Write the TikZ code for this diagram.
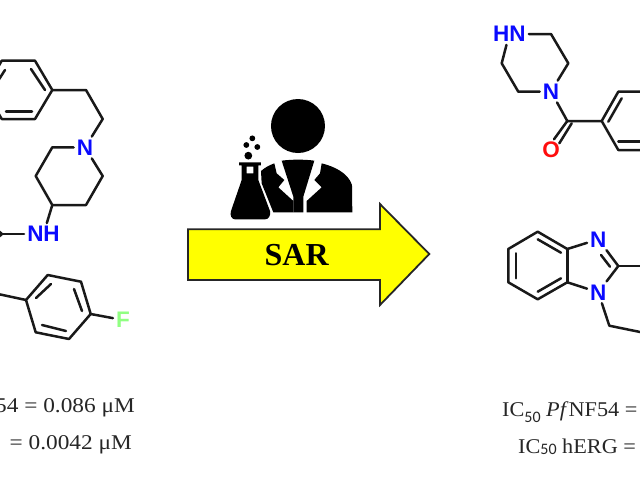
\documentclass[tikz,border=0pt]{standalone}
\usepackage{fontspec}
\setmainfont{Liberation Serif}
\newfontfamily\atomfont{Liberation Sans}
\newfontfamily\subfont{Carlito}
\newfontfamily\valleft{Liberation Serif}[FakeStretch=1.11]
\newfontfamily\valright{Liberation Serif}[FakeStretch=1.06]
\definecolor{atomblue}{RGB}{10,10,255}
\definecolor{atomred}{RGB}{255,13,13}
\definecolor{atomgreen}{RGB}{144,255,130}
\definecolor{arrowyellow}{RGB}{255,255,0}
\newcommand{\subfifty}[1]{\raisebox{#1}{\subfont\fontsize{16}{16}\selectfont 50}}
\tikzset{
  bond/.style={draw=black!90,line width=2.5pt,line join=round,line cap=round},
  atom/.style={font=\atomfont\bfseries\fontsize{22.5}{23}\selectfont,inner sep=3pt},
  natom/.style={atom,text=atomblue},
  valL/.style={font=\valleft\fontsize{21}{24}\selectfont,inner sep=0pt,text=black!85},
  valR/.style={font=\valright\fontsize{21}{24}\selectfont,inner sep=0pt,text=black!85},
  flow/.style={draw=black!85,fill=arrowyellow,line width=1.8pt,line join=miter},
  ico/.style={fill=black,draw=none}
}
\begin{document}
\begin{tikzpicture}[x=1pt,y=-1pt]
\useasboundingbox (0,0) rectangle (640,480);
% left molecule
\node[natom] (n1) at (85,147.5) {N};
\node[natom] (nh1) at (43.5,234) {NH};
\node[atom,text=atomgreen] (f1) at (123,320) {F};
\coordinate (pip) at (52.3,205);
\draw[bond] (-15,90) -- (1.7,60.7) -- (35,60.7) -- (52.3,90) -- (35,119) -- (1.7,119) -- cycle;
\draw[bond] (5,70) -- (-4,84);
\draw[bond] (31,69) -- (45,90);
\draw[bond] (6,111.5) -- (32,111.5);
\draw[bond] (52.3,90) -- (86,90) -- (102.7,119) -- (n1);
\draw[bond] (n1) -- (52.3,147.3) -- (35.7,176) -- (pip) -- (86,205) -- (102.7,176) -- (n1);
\draw[bond] (pip) -- (nh1);
\draw[bond] (nh1) -- (2,234);
\draw[bond] (-5,228) -- (2,234) -- (-5,240);
\draw[bond] (26,300) -- (47.7,275) -- (81,281.7) -- (90.7,314) -- (69,339) -- (35.7,332.3) -- cycle;
\draw[bond] (36,298) -- (51,284);
\draw[bond] (74,289) -- (82,311);
\draw[bond] (42,325) -- (66,331);
\draw[bond] (-2,294) -- (26,300);
\draw[bond] (90.7,314) -- (f1);
% left values
\node[valL,anchor=base east] (v1) at (135,412.7) {54 = 0.086 μM};
\node[valL,anchor=base east] (v2) at (132,449) {= 0.0042 μM};
% scientist icon
\begin{scope}[shift={(225,130)},x=0.3333pt,y=-0.3333pt]
\fill[ico] (219,-12) circle (27pt);
\fill[ico] (70,77) circle (3.9pt);
\fill[ico] (64,45) circle (2.9pt);
\fill[ico] (97,51) circle (2.9pt);
\fill[ico] (82,25) circle (2.9pt);
% flask
\fill[ico,even odd rule] (42,97) -- (108,97) -- (108,106) -- (100,106) -- (100,150) -- (135,243)
  .. controls (138,258) and (130,268) .. (120,268) -- (30,268)
  .. controls (20,268) and (14,256) .. (18,243) -- (50,150) -- (50,106) -- (42,106) -- cycle
  (65,110) -- (85,110) -- (85,130) -- (65,130) -- cycle;
% jacket
\fill[ico] (108,123) .. controls (120,112) and (135,105) .. (148,100) -- (155,130) -- (178,150) -- (160,172) -- (205,213) -- (205,247) -- (145,247) -- (110,160) -- cycle;
\fill[ico] (170,92) .. controls (200,88) and (240,88) .. (268,92) -- (235,200) -- (235,247) -- (205,247) -- (205,200) -- cycle;
\fill[ico] (290,100) .. controls (330,110) and (370,130) .. (381,165) -- (382,247) -- (245,247) -- (245,213) -- (290,172) -- (268,150) -- (285,130) -- cycle;
\end{scope}
% arrow
\draw[flow] (188,229.3) -- (380,229.3) -- (380,204) -- (429.3,254) -- (380,305) -- (380,280) -- (188,280) -- cycle;
\node[font=\bfseries\fontsize{32}{32}\selectfont,inner sep=0pt] (sar) at (296.7,255) {SAR};
% piperazine amide
\node[natom] (nh2) at (509.3,34) {HN};
\node[natom] (n2) at (551,91.5) {N};
\node[atom,text=atomred] (o1) at (551,150) {O};
\coordinate (co) at (567.3,121);
\coordinate (ar) at (601.7,121);
\draw[bond] (nh2) -- (551,34) -- (568.3,63.3) -- (n2) -- (518.3,91.7) -- (501.7,63.3) -- (nh2);
\draw[bond] (n2) -- (co) -- (ar);
\draw[bond] (co) -- (554,139.3);
\draw[bond] (571.7,123.3) -- (559.3,143.3);
\draw[bond] (645,91.7) -- (618.3,91.7) -- (ar) -- (618.3,150) -- (645,150);
\draw[bond] (621.7,98.3) -- (608.3,121.7);
\draw[bond] (618.3,141.7) -- (645,141.7);
% benzimidazole
\node[natom] (n3) at (598.3,239.3) {N};
\node[natom] (n4) at (598.3,292.3) {N};
\coordinate (c2) at (618.3,266);
\draw[bond] (n3) -- (567.3,249) -- (537.7,231.7) -- (508.3,249) -- (508.3,282.3) -- (537.7,299.3) -- (567.3,282.3) -- (n4);
\draw[bond] (567.3,249) -- (567.3,282.3);
\draw[bond] (537.7,239.3) -- (561,252.7);
\draw[bond] (516,253.3) -- (516,278.3);
\draw[bond] (537.7,291.7) -- (561,278.3);
\draw[bond] (n3) -- (c2) -- (n4);
\draw[bond] (601,255) -- (610,266.7);
\draw[bond] (c2) -- (645,266);
\draw[bond] (n4) -- (609.3,325.7) -- (645,333);
% right values
\node[valR,anchor=base west] (v3) at (502,416.7) {IC\subfifty{-6pt} \textit{Pf}NF54 =};
\node[valR,anchor=base west] (v4) at (518,453) {IC\subfifty{-1pt} hERG =};
\end{tikzpicture}
\end{document}
